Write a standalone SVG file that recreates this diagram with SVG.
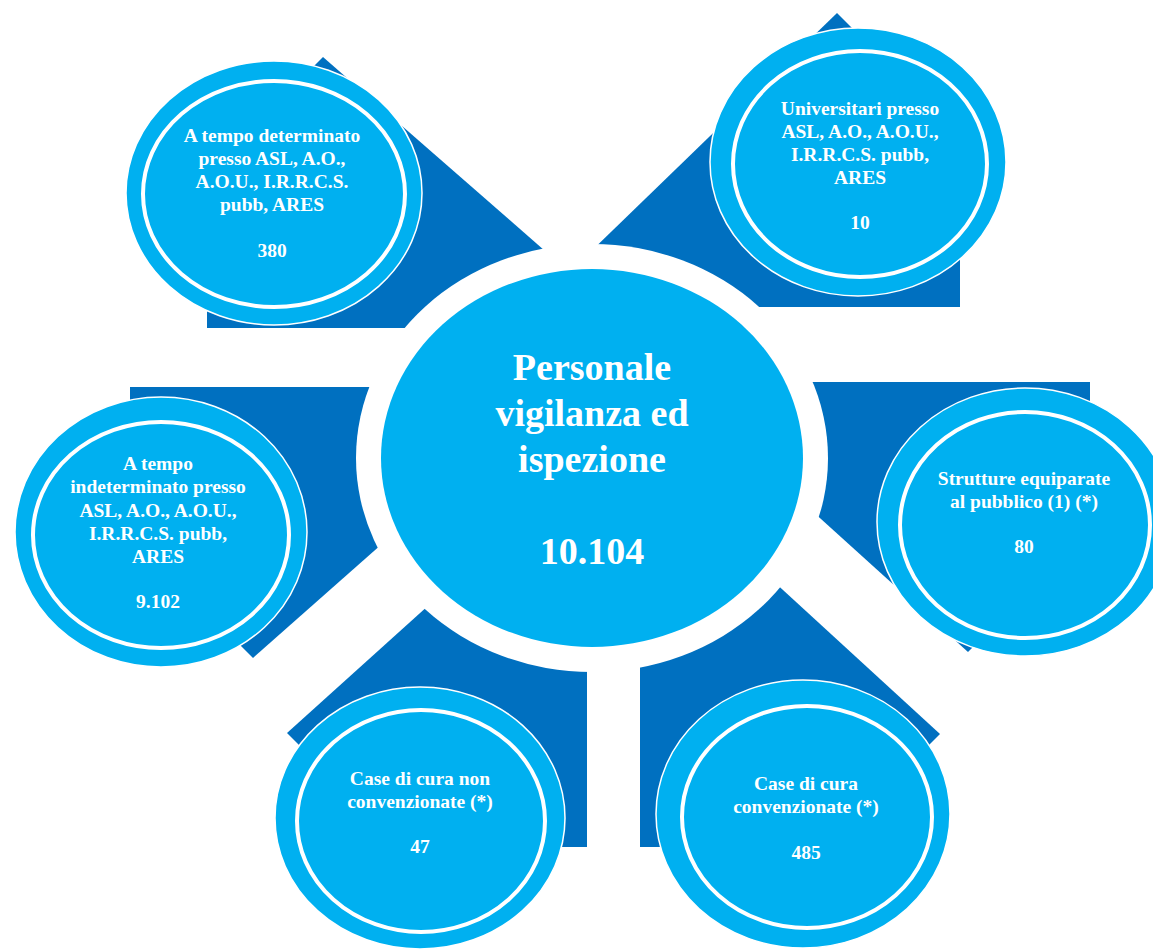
<svg xmlns="http://www.w3.org/2000/svg" width="1153" height="950" viewBox="0 0 1153 950">
<style>
.dark{fill:#0070C0}
.outer{fill:#00B0F0;stroke:#FFFFFF;stroke-width:1.5}
.inner{fill:none;stroke:#FFFFFF;stroke-width:4}
.t{font-family:"Liberation Serif","Times New Roman",serif;font-weight:bold;fill:#FFFFFF;text-anchor:middle;font-size:19.5px}
.c{font-family:"Liberation Serif","Times New Roman",serif;font-weight:bold;fill:#FFFFFF;text-anchor:middle;font-size:38px}
</style>
<rect width="1153" height="950" fill="#FFFFFF"/>
<g id="connectors">
<polygon class="dark" points="323,57 600,299 600,328 207,328 207,173"/>
<polygon class="dark" points="837,13 960,136 960,307 640,307 580,262"/>
<polygon class="dark" points="130,387 400,387 400,528 253,658 130,535"/>
<polygon class="dark" points="790,382 1090,382 1090,530 968,652 800,500"/>
<polygon class="dark" points="450,586 587,586 587,847 401,847 287,733"/>
<polygon class="dark" points="640,600 760,569 940,734 827,847 640,847"/>
<ellipse cx="592" cy="458" rx="236" ry="214" fill="#FFFFFF"/>
</g>
<g id="center">
<ellipse cx="592" cy="458" rx="211" ry="189" fill="#00B0F0"/>
<text class="c" x="592" y="380">Personale</text>
<text class="c" x="592" y="426">vigilanza ed</text>
<text class="c" x="592" y="472">ispezione</text>
<text class="c" x="592" y="564">10.104</text>
</g>
<g id="node1">
<ellipse class="outer" cx="274" cy="193" rx="148" ry="132"/>
<ellipse class="inner" cx="274" cy="194" rx="131" ry="113"/>
<text class="t" x="272" y="142">A tempo determinato</text>
<text class="t" x="272" y="165">presso ASL, A.O.,</text>
<text class="t" x="272" y="188">A.O.U., I.R.R.C.S.</text>
<text class="t" x="272" y="211">pubb, ARES</text>
<text class="t" x="272" y="257">380</text>
</g>
<g id="node2">
<ellipse class="outer" cx="858" cy="162" rx="148" ry="134"/>
<ellipse class="inner" cx="860" cy="164" rx="127" ry="113"/>
<text class="t" x="860" y="115">Universitari presso</text>
<text class="t" x="860" y="138">ASL, A.O., A.O.U.,</text>
<text class="t" x="860" y="161">I.R.R.C.S. pubb,</text>
<text class="t" x="860" y="184">ARES</text>
<text class="t" x="860" y="229">10</text>
</g>
<g id="node3">
<ellipse class="outer" cx="161" cy="532" rx="146" ry="135"/>
<ellipse class="inner" cx="161" cy="535" rx="128" ry="113"/>
<text class="t" x="158" y="470">A tempo</text>
<text class="t" x="158" y="493">indeterminato presso</text>
<text class="t" x="158" y="517">ASL, A.O., A.O.U.,</text>
<text class="t" x="158" y="540">I.R.R.C.S. pubb,</text>
<text class="t" x="158" y="563">ARES</text>
<text class="t" x="158" y="608">9.102</text>
</g>
<g id="node4">
<ellipse class="outer" cx="1025" cy="522" rx="148" ry="134"/>
<ellipse class="inner" cx="1025" cy="525" rx="125" ry="113"/>
<text class="t" x="1024" y="485">Strutture equiparate</text>
<text class="t" x="1024" y="508">al pubblico (1) (*)</text>
<text class="t" x="1024" y="553">80</text>
</g>
<g id="node5">
<ellipse class="outer" cx="420" cy="818" rx="145" ry="131"/>
<ellipse class="inner" cx="421" cy="821" rx="124" ry="111"/>
<text class="t" x="420" y="785">Case di cura non</text>
<text class="t" x="420" y="808">convenzionate (*)</text>
<text class="t" x="420" y="853">47</text>
</g>
<g id="node6">
<ellipse class="outer" cx="803" cy="814" rx="147" ry="134"/>
<ellipse class="inner" cx="807" cy="817" rx="125" ry="111"/>
<text class="t" x="806" y="790">Case di cura</text>
<text class="t" x="806" y="813">convenzionate (*)</text>
<text class="t" x="806" y="859">485</text>
</g>
</svg>
